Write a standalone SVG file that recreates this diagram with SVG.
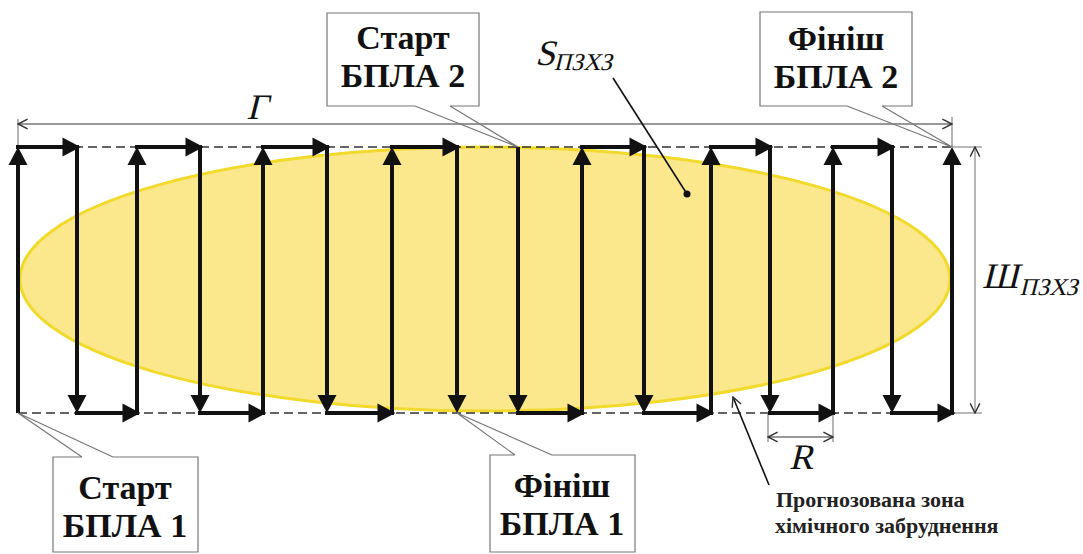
<svg xmlns="http://www.w3.org/2000/svg" width="1083" height="554" viewBox="0 0 1083 554">
<style>
.fl{fill:none;stroke:#111;stroke-width:4;marker-end:url(#ah)}
.dash{fill:none;stroke:#333;stroke-width:1.3;stroke-dasharray:9 5}
.dim{fill:none;stroke:#333;stroke-width:1.2}
.ext{fill:none;stroke:#777;stroke-width:1.1}
.box{fill:#fff;stroke:none}
.bord{fill:none;stroke:#777;stroke-width:1.2}
</style>
<defs>
<marker id="ah" markerUnits="userSpaceOnUse" markerWidth="20" markerHeight="20" viewBox="0 0 18 20" refX="10" refY="10" orient="auto">
<path d="M0,0.5 L18,10 L0,19.5 Z" fill="#111"/>
</marker>
<marker id="ch" markerUnits="userSpaceOnUse" markerWidth="12" markerHeight="12" viewBox="0 0 10 10" refX="9" refY="5" orient="auto">
<path d="M1,1 L9,5 L1,9" fill="none" stroke="#333" stroke-width="1.2"/>
</marker>
<marker id="chs" markerUnits="userSpaceOnUse" markerWidth="12" markerHeight="12" viewBox="0 0 10 10" refX="1" refY="5" orient="auto">
<path d="M9,1 L1,5 L9,9" fill="none" stroke="#333" stroke-width="1.2"/>
</marker>
</defs>

<g id="zone">
<ellipse cx="485" cy="279" rx="465" ry="132" fill="#FBE78C" stroke="#F1DA2C" stroke-width="3"/>
</g>

<g id="connectors">
<path class="dash" d="M18,147 H952 M18,413 H952"/>
<path class="ext" d="M18,119 V147 M952,117 V147"/>
<path class="dim" d="M18,124 H952" marker-start="url(#chs)" marker-end="url(#ch)"/>
<path class="ext" d="M952,147 H982 M952,413 H982"/>
<path class="ext" d="M975,147 V413" marker-start="url(#chs)" marker-end="url(#ch)"/>
<path class="ext" d="M768,413 V442 M833,413 V442"/>
<path class="dim" d="M768,437 H833" marker-start="url(#chs)" marker-end="url(#ch)"/>
<g id="drone1">
<path class="fl" d="M18,413 V155"/>
<path class="fl" d="M16,147 H72.5"/>
<path class="fl" d="M77,145 V405"/>
<path class="fl" d="M75,413 H132.5"/>
<path class="fl" d="M137,415 V155"/>
<path class="fl" d="M135,147 H195.5"/>
<path class="fl" d="M200,145 V405"/>
<path class="fl" d="M198,413 H258.5"/>
<path class="fl" d="M263,415 V155"/>
<path class="fl" d="M261,147 H322.5"/>
<path class="fl" d="M327,145 V405"/>
<path class="fl" d="M325,413 H387.5"/>
<path class="fl" d="M392,415 V155"/>
<path class="fl" d="M390,147 H452.5"/>
<path class="fl" d="M457,145 V405"/>
</g>
<g id="drone2">
<path class="fl" d="M518,147 V405"/>
<path class="fl" d="M516,413 H577.5"/>
<path class="fl" d="M582,415 V155"/>
<path class="fl" d="M580,147 H639.5"/>
<path class="fl" d="M644,145 V405"/>
<path class="fl" d="M642,413 H706.5"/>
<path class="fl" d="M711,415 V155"/>
<path class="fl" d="M709,147 H765.5"/>
<path class="fl" d="M770,145 V405"/>
<path class="fl" d="M768,413 H828.5"/>
<path class="fl" d="M833,415 V155"/>
<path class="fl" d="M831,147 H887.5"/>
<path class="fl" d="M892,145 V405"/>
<path class="fl" d="M890,413 H947.5"/>
<path class="fl" d="M952,415 V155"/>
</g>
<path d="M613,78 L687,194" fill="none" stroke="#111" stroke-width="1.6"/>
<circle cx="687" cy="194" r="3.5" fill="#111"/>
<path d="M769,485 L733,397" fill="none" stroke="#111" stroke-width="1.6" marker-end="url(#ch)"/>
</g>

<g id="start1">
<rect class="box" x="53" y="457" width="145" height="95"/>
<path class="bord" d="M82,457 H53 V552 H198 V457 H113 M82,457 L18,413 L113,457"/>
<text font-family="Liberation Serif" font-weight="bold" font-size="34" fill="#111" text-anchor="middle" x="125" y="499">Старт</text>
<text font-family="Liberation Serif" font-weight="bold" font-size="34" fill="#111" text-anchor="middle" x="125" y="537">БПЛА 1</text>
</g>

<g id="finish1">
<rect class="box" x="490" y="455" width="145" height="97"/>
<path class="bord" d="M515,455 H490 V552 H635 V455 H552 M515,455 L457,413 L552,455"/>
<text font-family="Liberation Serif" font-weight="bold" font-size="34" fill="#111" text-anchor="middle" x="562" y="497">Фініш</text>
<text font-family="Liberation Serif" font-weight="bold" font-size="34" fill="#111" text-anchor="middle" x="562" y="535">БПЛА 1</text>
</g>

<g id="start2">
<rect class="box" x="327" y="13" width="152" height="93"/>
<path class="bord" d="M415,106 H327 V13 H479 V106 H450 M415,106 L518,147 L450,106"/>
<text font-family="Liberation Serif" font-weight="bold" font-size="34" fill="#111" text-anchor="middle" x="403" y="49">Старт</text>
<text font-family="Liberation Serif" font-weight="bold" font-size="34" fill="#111" text-anchor="middle" x="403" y="87">БПЛА 2</text>
</g>

<g id="finish2">
<rect class="box" x="760" y="12" width="152" height="94"/>
<path class="bord" d="M847,106 H760 V12 H912 V106 H882 M847,106 L952,147 L882,106"/>
<text font-family="Liberation Serif" font-weight="bold" font-size="34" fill="#111" text-anchor="middle" x="836" y="50">Фініш</text>
<text font-family="Liberation Serif" font-weight="bold" font-size="34" fill="#111" text-anchor="middle" x="836" y="88">БПЛА 2</text>
</g>

<g id="labels">
<text font-family="Liberation Serif" fill="#111" transform="translate(257,119) skewX(-14)" font-size="36" text-anchor="middle">Г</text>
<text font-family="Liberation Serif" fill="#111" transform="translate(535,65) skewX(-14)" font-size="36">S<tspan font-size="24" dy="5">ПЗХЗ</tspan></text>
<text font-family="Liberation Serif" fill="#111" transform="translate(982,288) skewX(-14)" font-size="36">Ш<tspan font-size="24" dx="3" dy="7">ПЗХЗ</tspan></text>
<text font-family="Liberation Serif" fill="#111" transform="translate(801,469) skewX(-14)" font-size="36" text-anchor="middle">R</text>
<text font-family="Liberation Serif" font-weight="bold" font-size="22" fill="#222" x="776" y="507">Прогнозована зона</text>
<text font-family="Liberation Serif" font-weight="bold" font-size="22" fill="#222" x="775" y="533">хімічного забруднення</text>
</g>
</svg>
